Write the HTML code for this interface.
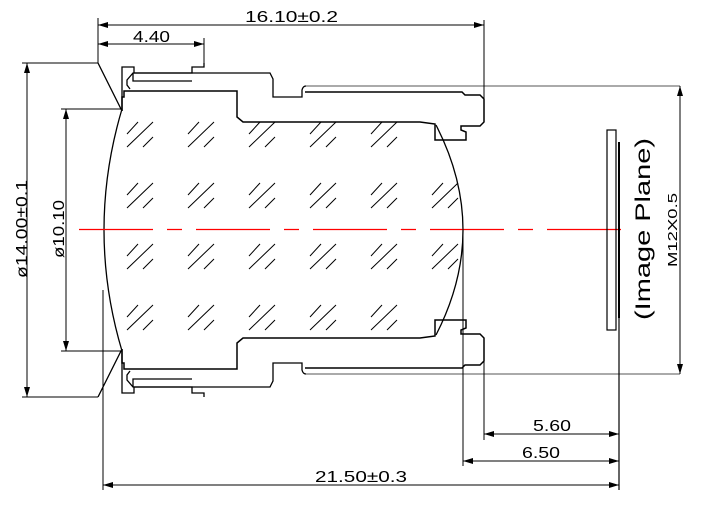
<!DOCTYPE html>
<html><head><meta charset="utf-8"><style>
html,body{margin:0;padding:0;background:#fff;}
svg{display:block;}
text{font-family:"Liberation Sans",sans-serif;fill:#000;}
</style></head><body>
<svg width="705" height="505" viewBox="0 0 705 505" xmlns="http://www.w3.org/2000/svg">
<defs>
<marker id="a" viewBox="0 0 10 6" refX="10" refY="3" markerWidth="10" markerHeight="6" orient="auto-start-reverse" markerUnits="userSpaceOnUse"><path d="M0,0 L10,3 L0,6 z" fill="#000"/></marker>
<g id="half" fill="none" stroke="#000" stroke-width="1.3">
  <path d="M122,111 V67 H134 V73 H192 V67 H204 V63"/>
  <path d="M98,63 L122,111"/>
  <path d="M130,89 L127,85 L127,80 L133,73 H270 L273,79 V97 H302 V90 Q303,86 306,86"/>
  <path d="M133,73 V81 H192"/>
  <path d="M122,111 V97 H124 V91 H237 V117 L243,122 H420 L435,124 V140 H466 V132 L461,130 V126 H480 L484,122 V99 L480,95 H465 L462,92 H305" stroke-width="1.5"/>
  <path d="M306,86 H680" stroke="#555" stroke-width="1"/>
</g>
</defs>
<use href="#half"/>
<use href="#half" transform="translate(0,460) scale(1,-1)"/>

<path d="M122,109 Q86,230 122,351" fill="none" stroke="#000" stroke-width="1.3"/>
<path d="M436,125 Q490,230 436,335" fill="none" stroke="#000" stroke-width="1.3"/>

<g stroke="#000" stroke-width="1" fill="none">
  <g transform="translate(127,122)"><path d="M0,12 L11,0 M0,25 L26,0 M16,25 L26,15"/></g>
  <g transform="translate(188,122)"><path d="M0,12 L11,0 M0,25 L26,0 M16,25 L26,15"/></g>
  <g transform="translate(249,122)"><path d="M0,12 L11,0 M0,25 L26,0 M16,25 L26,15"/></g>
  <g transform="translate(310,122)"><path d="M0,12 L11,0 M0,25 L26,0 M16,25 L26,15"/></g>
  <g transform="translate(371,122)"><path d="M0,12 L11,0 M0,25 L26,0 M16,25 L26,15"/></g>

  <g transform="translate(127,183)"><path d="M0,12 L11,0 M0,25 L26,0 M16,25 L26,15"/></g>
  <g transform="translate(188,183)"><path d="M0,12 L11,0 M0,25 L26,0 M16,25 L26,15"/></g>
  <g transform="translate(249,183)"><path d="M0,12 L11,0 M0,25 L26,0 M16,25 L26,15"/></g>
  <g transform="translate(310,183)"><path d="M0,12 L11,0 M0,25 L26,0 M16,25 L26,15"/></g>
  <g transform="translate(371,183)"><path d="M0,12 L11,0 M0,25 L26,0 M16,25 L26,15"/></g>
  <g transform="translate(432,183)"><path d="M0,12 L11,0 M0,25 L26,0 M16,25 L26,15"/></g>

  <g transform="translate(127,244)"><path d="M0,12 L11,0 M0,25 L26,0 M16,25 L26,15"/></g>
  <g transform="translate(188,244)"><path d="M0,12 L11,0 M0,25 L26,0 M16,25 L26,15"/></g>
  <g transform="translate(249,244)"><path d="M0,12 L11,0 M0,25 L26,0 M16,25 L26,15"/></g>
  <g transform="translate(310,244)"><path d="M0,12 L11,0 M0,25 L26,0 M16,25 L26,15"/></g>
  <g transform="translate(371,244)"><path d="M0,12 L11,0 M0,25 L26,0 M16,25 L26,15"/></g>
  <g transform="translate(432,244)"><path d="M0,12 L11,0 M0,25 L26,0 M16,25 L26,15"/></g>

  <g transform="translate(127,305)"><path d="M0,12 L11,0 M0,25 L26,0 M16,25 L26,15"/></g>
  <g transform="translate(188,305)"><path d="M0,12 L11,0 M0,25 L26,0 M16,25 L26,15"/></g>
  <g transform="translate(249,305)"><path d="M0,12 L11,0 M0,25 L26,0 M16,25 L26,15"/></g>
  <g transform="translate(310,305)"><path d="M0,12 L11,0 M0,25 L26,0 M16,25 L26,15"/></g>
  <g transform="translate(371,305)"><path d="M0,12 L11,0 M0,25 L26,0 M16,25 L26,15"/></g>
</g>

<line x1="79" y1="229.5" x2="632" y2="229.5" stroke="#ff0000" stroke-width="1.3" stroke-dasharray="74 14 15 14"/>

<rect x="607" y="130" width="9" height="200" fill="none" stroke="#000" stroke-width="1.2"/>
<line x1="619" y1="142" x2="619" y2="318" stroke="#000" stroke-width="2"/>
<line x1="619" y1="318" x2="619" y2="490" stroke="#000" stroke-width="1.2"/>

<g stroke="#000" stroke-width="1" fill="none">
  <path d="M98,18 V63 M204,38 V63 M484,20 V99"/>
  <path d="M22,63 H98 M22,397 H98"/>
  <path d="M61,109 H122 M61,351 H122"/>
  <path d="M484,361 V440 M463,229 V466 M103,290 V490"/>
</g>

<g stroke="#000" stroke-width="1" fill="none">
  <line x1="98" y1="25" x2="484" y2="25" marker-start="url(#a)" marker-end="url(#a)"/>
  <line x1="98" y1="44" x2="204" y2="44" marker-start="url(#a)" marker-end="url(#a)"/>
  <line x1="27" y1="63" x2="27" y2="397" marker-start="url(#a)" marker-end="url(#a)"/>
  <line x1="66" y1="109" x2="66" y2="351" marker-start="url(#a)" marker-end="url(#a)"/>
  <line x1="680" y1="86" x2="680" y2="374" marker-start="url(#a)" marker-end="url(#a)"/>
  <line x1="484" y1="434" x2="619" y2="434" marker-start="url(#a)" marker-end="url(#a)"/>
  <line x1="463" y1="461" x2="619" y2="461" marker-start="url(#a)" marker-end="url(#a)"/>
  <line x1="103" y1="485" x2="619" y2="485" marker-start="url(#a)" marker-end="url(#a)"/>
</g>

<text x="245" y="22" font-size="16" textLength="93" lengthAdjust="spacingAndGlyphs">16.10±0.2</text>
<text x="133" y="42" font-size="16" textLength="37" lengthAdjust="spacingAndGlyphs">4.40</text>
<text x="533" y="431" font-size="16" textLength="38" lengthAdjust="spacingAndGlyphs">5.60</text>
<text x="522" y="458" font-size="16" textLength="38" lengthAdjust="spacingAndGlyphs">6.50</text>
<text x="315" y="482" font-size="16" textLength="92" lengthAdjust="spacingAndGlyphs">21.50±0.3</text>
<text transform="translate(27,278) rotate(-90)" font-size="16" textLength="98" lengthAdjust="spacingAndGlyphs">ø14.00±0.1</text>
<text transform="translate(64,258) rotate(-90)" font-size="16" textLength="58" lengthAdjust="spacingAndGlyphs">ø10.10</text>
<text transform="translate(677,267) rotate(-90)" font-size="13" textLength="74" lengthAdjust="spacingAndGlyphs">M12X0.5</text>
<text transform="translate(650,320) rotate(-90)" font-size="21" textLength="182" lengthAdjust="spacingAndGlyphs">(Image  Plane)</text>
</svg>
</body></html>
